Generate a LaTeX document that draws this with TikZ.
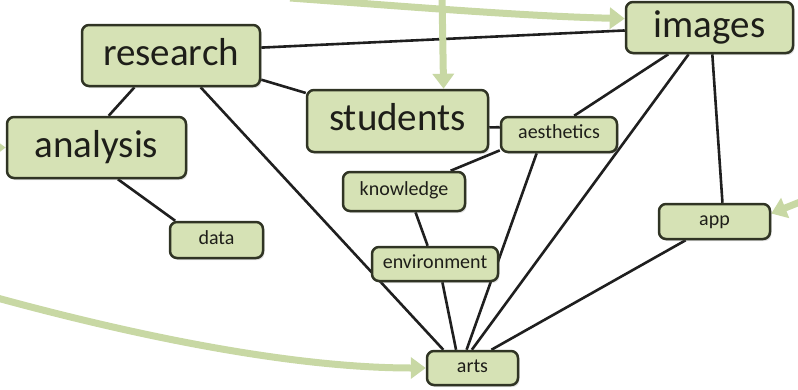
\documentclass[tikz,border=0pt]{standalone}
\usepackage{fontspec}
\setmainfont{Carlito}
\usetikzlibrary{arrows.meta,shadows}
\pgfdeclarelayer{background}
\pgfsetlayers{background,main}
\definecolor{boxfill}{RGB}{214,226,181}
\definecolor{boxline}{RGB}{48,52,36}
\definecolor{flowgreen}{RGB}{200,216,164}
\definecolor{txt}{RGB}{30,30,25}

\begin{document}
\begin{tikzpicture}[x=1pt,y=-1pt,
    box/.style={draw=boxline,fill=boxfill,line width=2.5pt,rounded corners=7pt,
      inner sep=0pt,text=txt,
      drop shadow={opacity=.25,shadow xshift=1.5pt,shadow yshift=-2pt}},
    bigbox/.style={box,font=\fontsize{39}{44}\selectfont,text height=27pt,text depth=8pt},
    smallbox/.style={box,font=\fontsize{20}{24}\selectfont,text height=12.5pt,text depth=4.5pt},
    link/.style={draw=black!88,line width=2.6pt},
    flow/.style={draw=flowgreen,line width=7pt,-{Triangle[width=21pt,length=15pt]}}]
          \useasboundingbox (0,0) rectangle (798,389);
          % topics
          \node[bigbox,minimum width=178pt,minimum height=61pt] (research) at (171,55.5) {research};
          \node[bigbox,minimum width=179pt,minimum height=61pt] (analysis) at (96.5,147.5) {analysis};
          \node[bigbox,minimum width=181pt,minimum height=62pt] (students) at (397.5,121) {students};
          \node[bigbox,minimum width=167pt,minimum height=51pt] (images) at (709.5,27.5) {images};
          \node[smallbox,minimum width=116pt,minimum height=35pt] (aesthetics) at (559,134.5) {aesthetics};
          \node[smallbox,minimum width=122pt,minimum height=39pt] (knowledge) at (404,191.5) {knowledge};
          \node[smallbox,minimum width=93pt,minimum height=36pt] (data) at (216.5,240) {data};
          \node[smallbox,minimum width=126pt,minimum height=34pt] (environment) at (435,264) {environment};
          \node[smallbox,minimum width=111pt,minimum height=35pt] (app) at (714.5,221.5) {app};
          \node[smallbox,minimum width=91pt,minimum height=34pt] (arts) at (472.5,368) {arts};
          \coordinate (intop) at (290,-2);
          \coordinate (inmid) at (442,-6);
          \coordinate (inleft) at (-30,148);
          \coordinate (inlow) at (-10,296);
          \coordinate (inright) at (830,190);
          \begin{pgfonlayer}{background}
            \draw[link] (research.5) -- (images.182);
            \draw[link] (research.345) -- (students.163);
            \draw[link] (research.221) -- (analysis.69);
            \draw[link] (research.313) -- (arts.148);
            \draw[link] (analysis.304) -- (data.155);
            \draw[link] (students.356) -- (aesthetics.173);
            \draw[link] (aesthetics.195) -- (knowledge.24);
            \draw[link] (aesthetics.220) -- (arts.108);
            \draw[link] (images.213) -- (aesthetics.51);
            \draw[link] (images.232) -- (arts.92);
            \draw[link] (images.276) -- (app.67);
            \draw[link] (knowledge.299) -- (environment.112);
            \draw[link] (environment.292) -- (arts.132);
            \draw[link] (app.213) -- (arts.44);
            % incoming arrows
            \begin{scope}
              \clip (0,0) rectangle (798,389);
              \draw[flow] (intop) .. controls (400,6) and (520,16) .. (images.174);
              \draw[flow] (inmid) -- (students.35);
              \draw[flow] (inleft) -- (analysis.west);
              \draw[flow] (inlow) .. controls (150,340) and (300,368) .. (arts.west);
              \draw[flow] (inright) -- (app.8);
            \end{scope}
          \end{pgfonlayer}
\end{tikzpicture}
\end{document}
